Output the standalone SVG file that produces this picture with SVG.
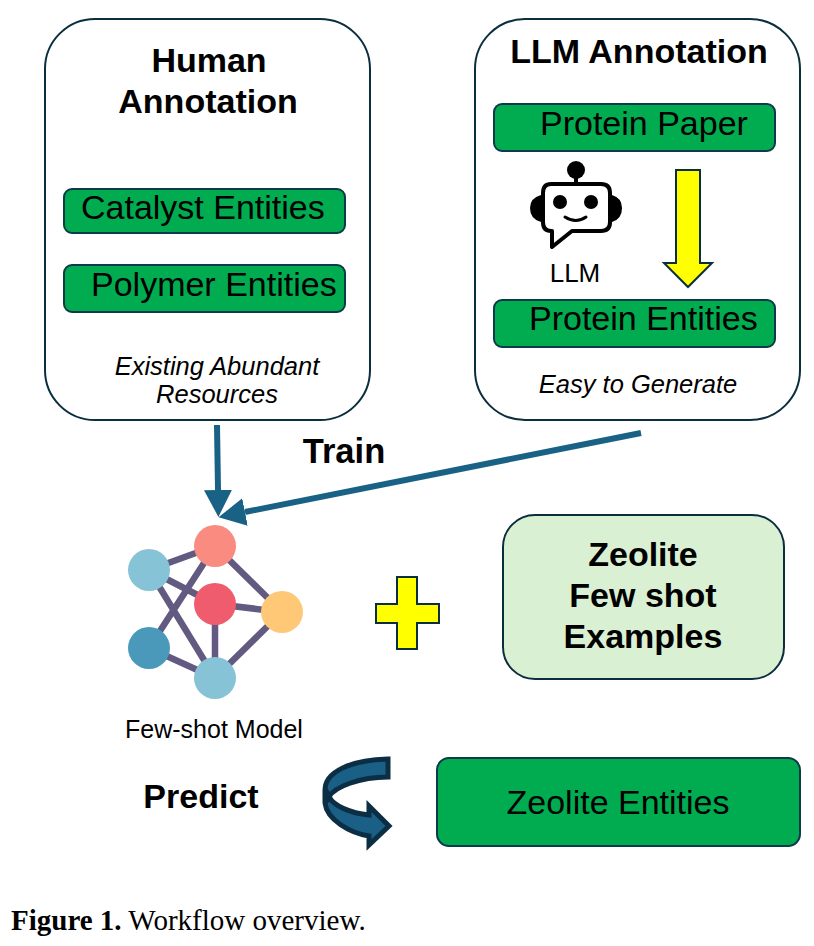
<svg xmlns="http://www.w3.org/2000/svg" width="814" height="946" viewBox="0 0 814 946">
<style>
text{font-family:"Liberation Sans",Arial,sans-serif;fill:#000}
.panel{fill:#fff;stroke:#0b2e3f;stroke-width:2}
.green{fill:#00ac4f;stroke:#0b3a4a;stroke-width:2}
.title{font-size:34px;font-weight:bold;text-anchor:middle}
.ent{font-size:34px}
.note{font-size:25.5px;font-style:italic;text-anchor:middle}
.edge{stroke:#625a80;stroke-width:6.5;fill:none}
.flow{stroke:#1a6285;stroke-width:6;fill:none;marker-end:url(#ah)}
.yel{fill:#ffff00;stroke:#0b2e3f;stroke-width:2}
</style>
<defs>
<marker id="ah" markerUnits="userSpaceOnUse" markerWidth="30" markerHeight="30" refX="0" refY="14" orient="auto"><path d="M0,0L27,14L0,28Z" fill="#1a6285"/></marker>
</defs>
<rect width="814" height="946" fill="#fff"/>
<g id="connectors">
<path class="flow" d="M217,425L218,490"/>
<path class="flow" d="M641,433L245,512"/>
<g id="net-edges">
<path class="edge" d="M149,570L215,546M149,570L215,604M149,570L215,678M215,546L149,648M215,546L282,612M215,604L282,612M215,604L215,678M282,612L215,678M149,648L215,678"/>
</g>
</g>
<g id="human-annotation">
<rect class="panel" x="45" y="19" width="325" height="401" rx="50"/>
<text class="title" x="209" y="72">Human</text>
<text class="title" x="208" y="113">Annotation</text>
<rect class="green" x="64" y="189" width="281" height="44" rx="8"/>
<text class="ent" x="81" y="219">Catalyst Entities</text>
<rect class="green" x="64" y="265" width="281" height="47" rx="8"/>
<text class="ent" x="91" y="296">Polymer Entities</text>
<text class="note" x="217" y="375">Existing Abundant</text>
<text class="note" x="217" y="403">Resources</text>
</g>
<g id="llm-annotation">
<rect class="panel" x="475" y="19" width="325" height="401" rx="50"/>
<text class="title" x="639" y="63">LLM Annotation</text>
<rect class="green" x="494" y="104" width="281" height="47" rx="8"/>
<text class="ent" x="540" y="135">Protein Paper</text>
<g id="llm-robot">
<circle cx="576" cy="170" r="9" fill="#000"/>
<path d="M576,175V185" stroke="#000" stroke-width="4"/>
<path d="M551,184H601Q610,184 610,193V222Q610,231 601,231H572L552,247V231H551Q543,231 543,222V193Q543,184 551,184Z" fill="#fff" stroke="#000" stroke-width="4" stroke-linejoin="round"/>
<path d="M541,195V222Q530,219 530,208Q530,198 541,195ZM612,195V222Q622,219 622,208Q622,198 612,195Z" fill="#000"/>
<circle cx="560" cy="202" r="7" fill="#000"/>
<circle cx="591" cy="202" r="7" fill="#000"/>
<path d="M565,217Q576,224 586,217" fill="none" stroke="#000" stroke-width="3" stroke-linecap="round"/>
<text x="575" y="282" font-size="26" text-anchor="middle">LLM</text>
</g>
<path id="llm-down-arrow" class="yel" d="M676,170H700V263H712L688,287L664,263H676Z"/>
<rect class="green" x="494" y="300" width="281" height="47" rx="8"/>
<text class="ent" x="529" y="330">Protein Entities</text>
<text class="note" x="638" y="393">Easy to Generate</text>
</g>
<text x="344" y="463" font-size="34.5" font-weight="bold" text-anchor="middle">Train</text>
<g id="few-shot-model">
<circle cx="149" cy="570" r="21" fill="#87c3d6"/>
<circle cx="215" cy="546" r="21" fill="#f98b80"/>
<circle cx="215" cy="604" r="21" fill="#ef5c6e"/>
<circle cx="282" cy="612" r="21" fill="#fec876"/>
<circle cx="149" cy="648" r="21" fill="#4a99bb"/>
<circle cx="215" cy="678" r="21" fill="#87c3d6"/>
<text x="214" y="738" font-size="25" text-anchor="middle">Few-shot Model</text>
</g>
<path id="plus" class="yel" d="M397,577H417V604H439V623H417V649H397V623H376V604H397Z"/>
<g id="zeolite-examples">
<rect x="503" y="515" width="281" height="164" rx="32" fill="#daf0d2" stroke="#0b2e3f" stroke-width="2"/>
<text class="title" x="643" y="566">Zeolite</text>
<text class="title" x="643" y="607">Few shot</text>
<text class="title" x="643" y="648">Examples</text>
</g>
<text x="201" y="808" font-size="34" font-weight="bold" text-anchor="middle">Predict</text>
<g id="predict-arrow" stroke="#0b2e45" stroke-width="5" stroke-linejoin="miter">
<path d="M388,759C350,760 325,772 325,790V803C327,820 350,833 369,836V845L389,826L369,806V815C350,813 334,806 329,797C334,787 360,777 388,777Z" fill="#1a5f85"/>
<path d="M325,788V803L331,799C330,795 329,792 325,788Z" fill="#0b2e45" stroke-width="3"/>
</g>
<g id="zeolite-entities">
<rect class="green" x="437" y="758" width="363" height="88" rx="12"/>
<text class="ent" x="618" y="814" text-anchor="middle">Zeolite Entities</text>
</g>
<text x="11" y="930" style="font-family:'Liberation Serif',serif" font-size="29"><tspan font-weight="bold">Figure 1.</tspan> Workflow overview.</text>
</svg>
